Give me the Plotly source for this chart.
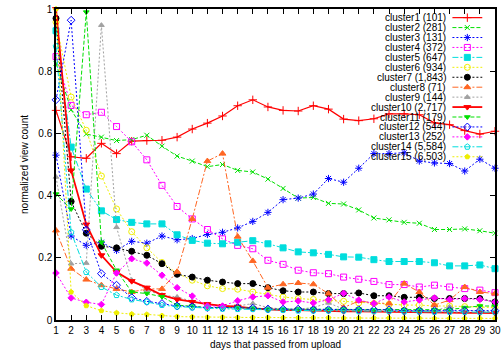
import plotly.graph_objects as go

days = list(range(1, 31))
x_ticks = list(range(1, 31))
y_ticks = [0, 0.2, 0.4, 0.6, 0.8, 1]

names = ["cluster1 (101)", "cluster2 (281)", "cluster3 (131)", "cluster4 (372)",
         "cluster5 (647)", "cluster6 (934)", "cluster7 (1,843)", "cluster8 (71)",
         "cluster9 (144)", "cluster10 (2,717)", "cluster11 (179)", "cluster12 (544)",
         "cluster13 (252)", "cluster14 (5,584)", "cluster15 (6,503)"]

c1 = [0.674, 0.525, 0.52, 0.568, 0.535, 0.575, 0.577, 0.578, 0.588, 0.614, 0.633, 0.656, 0.689, 0.708, 0.685,
      0.674, 0.672, 0.689, 0.678, 0.646, 0.641, 0.647, 0.663, 0.663, 0.66, 0.634, 0.628, 0.609, 0.598, 0.607]
c2 = [0.825, 0.676, 0.598, 0.588, 0.577, 0.58, 0.594, 0.559, 0.527, 0.511, 0.493, 0.5, 0.481, 0.476, 0.453,
      0.423, 0.392, 0.394, 0.375, 0.373, 0.354, 0.328, 0.322, 0.314, 0.311, 0.291, 0.291, 0.293, 0.287, 0.279]
c3 = [0.53, 0.27, 0.24, 0.25, 0.224, 0.253, 0.247, 0.27, 0.258, 0.262, 0.275, 0.282, 0.296, 0.317, 0.346,
      0.387, 0.392, 0.405, 0.455, 0.443, 0.488, 0.535, 0.535, 0.538, 0.511, 0.505, 0.503, 0.479, 0.517, 0.488]
c4 = [0.847, 0.69, 0.66, 0.668, 0.622, 0.573, 0.515, 0.433, 0.365, 0.325, 0.291, 0.261, 0.24, 0.229, 0.192,
      0.179, 0.16, 0.152, 0.149, 0.138, 0.131, 0.124, 0.114, 0.114, 0.106, 0.112, 0.106, 0.101, 0.096, 0.088]
c5 = [0.93, 0.556, 0.421, 0.351, 0.323, 0.314, 0.309, 0.309, 0.274, 0.256, 0.247, 0.245, 0.25, 0.255, 0.245,
      0.232, 0.219, 0.216, 0.211, 0.203, 0.202, 0.194, 0.188, 0.188, 0.188, 0.184, 0.174, 0.174, 0.177, 0.165]
c6 = [0.958, 0.717, 0.61, 0.463, 0.357, 0.284, 0.232, 0.185, 0.15, 0.128, 0.11, 0.101, 0.099, 0.09, 0.082,
      0.074, 0.069, 0.066, 0.062, 0.06, 0.055, 0.053, 0.05, 0.048, 0.048, 0.045, 0.045, 0.043, 0.042, 0.04]
c7 = [0.97, 0.381, 0.279, 0.237, 0.232, 0.221, 0.208, 0.181, 0.147, 0.138, 0.128, 0.122, 0.117, 0.117, 0.104,
      0.094, 0.09, 0.09, 0.085, 0.085, 0.087, 0.078, 0.078, 0.073, 0.073, 0.069, 0.069, 0.069, 0.069, 0.058]
c8 = [0.288, 0.165, 0.13, 0.112, 0.1, 0.09, 0.1, 0.1, 0.155, 0.325, 0.511, 0.535, 0.268, 0.19, 0.104,
      0.115, 0.119, 0.115, 0.085, 0.04, 0.061, 0.055, 0.053, 0.117, 0.09, 0.048, 0.064, 0.106, 0.09, 0.085]
c9 = [0.46, 0.181, 0.183, 0.948, 0.298, 0.128, 0.096, 0.08, 0.074, 0.06, 0.05, 0.045, 0.045, 0.053, 0.04,
      0.035, 0.035, 0.04, 0.055, 0.035, 0.03, 0.03, 0.03, 0.03, 0.03, 0.03, 0.043, 0.03, 0.03, 0.025]
c10 = [1.0, 0.481, 0.307, 0.208, 0.154, 0.125, 0.104, 0.08, 0.066, 0.058, 0.051, 0.045, 0.043, 0.037, 0.034,
       0.032, 0.032, 0.03, 0.03, 0.028, 0.028, 0.027, 0.026, 0.025, 0.025, 0.024, 0.024, 0.023, 0.023, 0.022]
c11 = [0.405, 0.357, 0.99, 0.25, 0.16, 0.09, 0.085, 0.075, 0.048, 0.045, 0.04, 0.04, 0.04, 0.038, 0.035,
       0.035, 0.035, 0.035, 0.035, 0.035, 0.035, 0.033, 0.033, 0.033, 0.033, 0.033, 0.033, 0.04, 0.045, 0.045]
c12 = [0.708, 0.964, 0.29, 0.149, 0.112, 0.072, 0.06, 0.053, 0.045, 0.043, 0.04, 0.04, 0.04, 0.038, 0.035,
       0.035, 0.035, 0.033, 0.033, 0.033, 0.033, 0.033, 0.033, 0.03, 0.03, 0.03, 0.03, 0.03, 0.03, 0.03]
c13 = [0.151, 0.071, 0.057, 0.05, 0.151, 0.197, 0.183, 0.144, 0.104, 0.077, 0.045, 0.045, 0.062, 0.074, 0.078,
       0.058, 0.061, 0.055, 0.065, 0.086, 0.064, 0.053, 0.074, 0.058, 0.064, 0.071, 0.066, 0.069, 0.066, 0.058]
c14 = [0.88, 0.282, 0.154, 0.106, 0.08, 0.066, 0.058, 0.048, 0.043, 0.04, 0.038, 0.036, 0.035, 0.035, 0.033,
       0.032, 0.03, 0.03, 0.03, 0.03, 0.028, 0.028, 0.028, 0.027, 0.027, 0.026, 0.026, 0.026, 0.025, 0.025]
c15 = [1.0, 0.09, 0.046, 0.03, 0.023, 0.019, 0.018, 0.014, 0.011, 0.01, 0.009, 0.009, 0.008, 0.008, 0.008,
       0.007, 0.007, 0.007, 0.007, 0.006, 0.006, 0.006, 0.006, 0.006, 0.006, 0.005, 0.005, 0.005, 0.005, 0.005]

series = [c1, c2, c3, c4, c5, c6, c7, c8, c9, c10, c11, c12, c13, c14, c15]

DASH = "4px,2px"
DOT = "2px,2px"
DASHDOT = "6px,2px,2px,2px"
# (color, dash, symbol, size, line width)
styles = [
    ("#ff0000", "solid", "cross-thin-open", 6, 1.2),
    ("#00e000", DASH, "x-thin-open", 5, 1.0),
    ("#0000ff", DOT, "asterisk-open", 6, 1.0),
    ("#ff00ff", DOT, "square-open", 6, 1.0),
    ("#00dddd", DASHDOT, "square", 6, 1.0),
    ("#eeee00", DOT, "circle-open", 6, 1.0),
    ("#000000", DOT, "circle", 6, 1.0),
    ("#ff6622", DASHDOT, "triangle-up", 6, 1.0),
    ("#a0a0a0", DOT, "triangle-up", 5, 1.0),
    ("#ff0000", "solid", "triangle-down", 6, 1.8),
    ("#00e000", DASH, "triangle-down", 5, 1.0),
    ("#0000ff", DOT, "diamond-open", 6, 1.0),
    ("#ff00ff", DOT, "diamond", 5, 1.0),
    ("#00dddd", DASHDOT, "pentagon-open", 6, 1.0),
    ("#eeee00", DOT, "pentagon", 5, 1.0),
]

FONT = "Liberation Sans, Arial, sans-serif"
fig = go.Figure()

for name, ys, (col, dash, sym, sz, lw) in zip(names, series, styles):
    fig.add_trace(go.Scatter(
        x=days, y=ys, name=name, mode="lines+markers",
        line=dict(color=col, dash=dash, width=lw),
        marker=dict(symbol=sym, size=sz, color=col, line=dict(color=col, width=1)),
        showlegend=False, cliponaxis=False))

# custom gnuplot-style key: text on the left, sample on the right
annotations = []
plot_top, plot_h = 7, 313
for i, (name, (col, dash, sym, sz, lw)) in enumerate(zip(names, styles)):
    py = 15.7 + 10 * i
    yp = (plot_h + plot_top - py) / plot_h
    annotations.append(dict(text=name, x=0.892, y=yp, xref="paper", yref="paper",
                            xanchor="right", yanchor="middle", showarrow=False,
                            font=dict(family=FONT, size=10, color="#000")))
    fig.add_trace(go.Scatter(x=[0.903, 0.971], y=[yp, yp], xaxis="x2", yaxis="y2",
                             mode="lines", line=dict(color=col, dash=dash, width=lw),
                             showlegend=False, hoverinfo="skip", cliponaxis=False))
    fig.add_trace(go.Scatter(x=[0.937], y=[yp], xaxis="x2", yaxis="y2", mode="markers",
                             marker=dict(symbol=sym, size=sz, color=col, line=dict(color=col, width=1)),
                             showlegend=False, hoverinfo="skip", cliponaxis=False))

axis_common = dict(showline=True, linecolor="black", linewidth=1.5, mirror="ticks",
                   ticks="inside", ticklen=5, tickcolor="black", showgrid=False, zeroline=False,
                   tickfont=dict(family=FONT, size=10, color="black"))

fig.update_layout(
    width=504, height=358,
    margin=dict(l=56, r=3, t=7, b=38),
    plot_bgcolor="white", paper_bgcolor="white",
    font=dict(family=FONT, size=10, color="black"),
    xaxis=dict(range=[1, 30], tickmode="array", tickvals=x_ticks, ticktext=[str(v) for v in x_ticks],
               ticklabeloverflow="allow",
               title=dict(text="days that passed from upload", font=dict(family=FONT, size=10), standoff=6),
               **axis_common),
    yaxis=dict(range=[0, 1], tickmode="array", tickvals=y_ticks, ticktext=["0", "0.2", "0.4", "0.6", "0.8", "1"],
               title=dict(text="normalized view count", font=dict(family=FONT, size=10), standoff=8),
               **axis_common),
    xaxis2=dict(overlaying="x", range=[0, 1], visible=False, anchor="y2"),
    yaxis2=dict(overlaying="y", range=[0, 1], visible=False, anchor="x2"),
    annotations=annotations,
    showlegend=False,
)

fig.write_html("out.html")
